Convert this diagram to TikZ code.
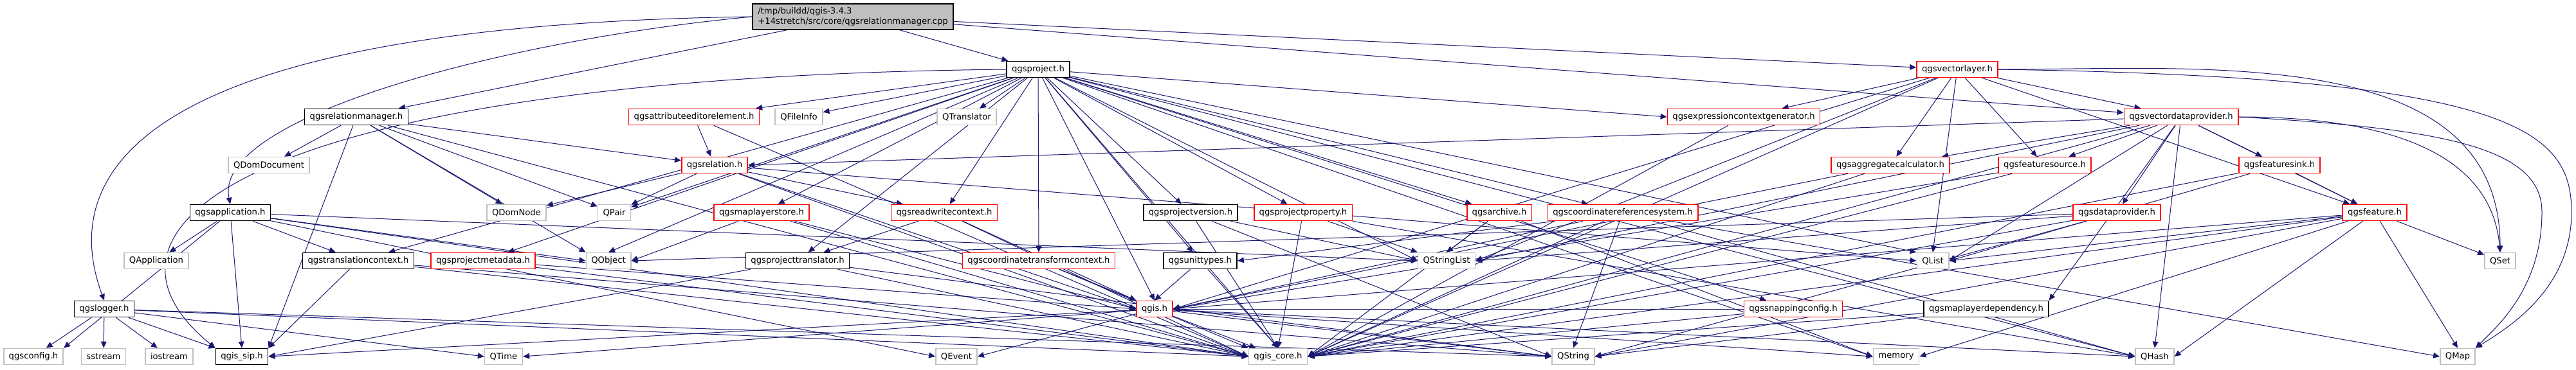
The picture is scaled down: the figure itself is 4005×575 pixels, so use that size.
\documentclass[tikz,border=0pt]{standalone}
\usepackage{fontspec}
\setmainfont{DejaVu Sans}
\usetikzlibrary{arrows.meta, backgrounds}
\definecolor{edgeblue}{HTML}{191970}
\definecolor{extgray}{HTML}{BFBFBF}

\begin{document}
\begin{tikzpicture}[
    x=0.5pt, y=-0.5pt,
    docbox/.style={draw=black, line width=0.8pt, fill=white, inner xsep=4pt, inner ysep=0pt,
        minimum height=12.5pt, font=\fontsize{6.6pt}{7.8pt}\selectfont},
    truncbox/.style={docbox, draw=red},
    extbox/.style={docbox, draw=extgray},
    rootbox/.style={docbox, fill=extgray, minimum height=20pt, align=left},
    dep/.style={draw=edgeblue, line width=0.5pt, -{Triangle[length=5pt,width=4.4pt]}}
]
    \useasboundingbox (0,0) rectangle (4005,575);

    % Source file
    \node[rootbox] (root) at (1326,26) {/tmp/buildd/qgis-3.4.3\\+14stretch/src/core/qgsrelationmanager.cpp};

    % Rank 1
    \node[docbox] (proj) at (1614,108) {qgsproject.h};
    \node[truncbox] (vlayer) at (3043,108) {qgsvectorlayer.h};

    % Rank 2
    \node[docbox] (relmgr) at (554,182) {qgsrelationmanager.h};
    \node[truncbox] (attredit) at (1079,182) {qgsattributeeditorelement.h};
    \node[extbox] (qfileinfo) at (1242,182) {QFileInfo};
    \node[extbox] (qtrans) at (1503,182) {QTranslator};
    \node[truncbox] (exprgen) at (2711,182) {qgsexpressioncontextgenerator.h};
    \node[truncbox] (vdp) at (3391,182) {qgsvectordataprovider.h};

    % Rank 3
    \node[extbox] (qdomdoc) at (418,257) {QDomDocument};
    \node[truncbox] (relation) at (1111,257) {qgsrelation.h};
    \node[truncbox] (aggcalc) at (2939,257) {qgsaggregatecalculator.h};
    \node[truncbox] (fsource) at (3179,257) {qgsfeaturesource.h};
    \node[truncbox] (fsink) at (3544,257) {qgsfeaturesink.h};

    % Rank 4
    \node[docbox] (app) at (358,331) {qgsapplication.h};
    \node[extbox] (qdomnode) at (803,331) {QDomNode};
    \node[extbox] (qpair) at (955,331) {QPair};
    \node[truncbox] (mlstore) at (1184,331) {qgsmaplayerstore.h};
    \node[truncbox] (rwctx) at (1468,331) {qgsreadwritecontext.h};
    \node[docbox] (projver) at (1851,331) {qgsprojectversion.h};
    \node[truncbox] (projprop) at (2026,331) {qgsprojectproperty.h};
    \node[truncbox] (archive) at (2331,331) {qgsarchive.h};
    \node[truncbox] (crs) at (2523,331) {qgscoordinatereferencesystem.h};
    \node[truncbox] (dprov) at (3291,331) {qgsdataprovider.h};
    \node[truncbox] (feature) at (3692,331) {qgsfeature.h};

    % Rank 5
    \node[extbox] (qapp) at (243,406) {QApplication};
    \node[docbox] (trctx) at (557,406) {qgstranslationcontext.h};
    \node[truncbox] (projmeta) at (751,406) {qgsprojectmetadata.h};
    \node[extbox] (qobject) at (946,406) {QObject};
    \node[docbox] (projtr) at (1240,406) {qgsprojecttranslator.h};
    \node[truncbox] (ctctx) at (1615,406) {qgscoordinatetransformcontext.h};
    \node[docbox] (units) at (1866,406) {qgsunittypes.h};
    \node[extbox] (qstrlist) at (2249,406) {QStringList};
    \node[extbox] (qlist) at (3005,406) {QList};
    \node[extbox] (qset) at (3887,406) {QSet};

    % Rank 6
    \node[docbox] (logger) at (162,481) {qgslogger.h};
    \node[truncbox] (qgish) at (1795,481) {qgis.h};
    \node[truncbox] (snapcfg) at (2788,481) {qgssnappingconfig.h};
    \node[docbox] (mldep) at (3088,481) {qgsmaplayerdependency.h};

    % Rank 7
    \node[extbox] (qgsconfig) at (52,555) {qgsconfig.h};
    \node[extbox] (sstream) at (161,555) {sstream};
    \node[extbox] (iostream) at (263,555) {iostream};
    \node[docbox] (qgissip) at (376,555) {qgis\_sip.h};
    \node[extbox] (qtime) at (783,555) {QTime};
    \node[extbox] (qevent) at (1487,555) {QEvent};
    \node[extbox] (qgiscore) at (1987,555) {qgis\_core.h};
    \node[extbox] (qstring) at (2446,555) {QString};
    \node[extbox] (memory) at (2948,555) {memory};
    \node[extbox] (qhash) at (3350,555) {QHash};
    \node[extbox] (qmap) at (3821,555) {QMap};

    % Includes
    \begin{scope}[on background layer, every edge/.style={dep}]
    \path (root) edge (relmgr) edge (proj) edge (vlayer) edge (vdp);
    \draw[dep] (root.west) .. controls (150,40) and (100,300) .. (logger.north);
    \draw[dep] (root.west) .. controls (800,60) and (330,180) .. (app.north);

    \path (relmgr) edge (qdomdoc) edge (qdomnode) edge (qpair) edge (qobject.north west)
        edge (relation) edge (qgiscore.west) edge (qgissip.north east);

    \path (app) edge (qapp) edge (qgsconfig.north east) edge (trctx) edge (qgissip.north)
        edge (qgiscore.west) edge (qobject.west) edge (qstrlist.west) edge (qevent.west);

    \path (logger) edge (qgsconfig) edge (sstream) edge (iostream) edge (qgissip.north west)
        edge (qgiscore.west) edge (qstring.west) edge (qtime.west);

    \path (proj) edge (qtrans) edge (qfileinfo) edge (attredit) edge (mlstore)
        edge (projmeta) edge (rwctx) edge (ctctx) edge (units) edge (projver)
        edge (projprop) edge (archive) edge (crs) edge (snapcfg) edge (exprgen.west)
        edge (trctx) edge (projtr) edge (qobject.north) edge (qpair) edge (qstrlist.west)
        edge (qlist.north west) edge (qhash.west) edge (memory.west) edge (qgish.north)
        edge (qgiscore.north);
    \draw[dep] (proj.west) .. controls (400,120) and (100,350) .. (qgissip.north west);

    \path (attredit) edge (relation) edge (qgiscore.west);
    \path (relation) edge (qdomnode) edge (qpair) edge (rwctx) edge (qlist.west)
        edge (qgiscore.west) edge (qgish.west);
    \path (mlstore) edge (qobject.east) edge (qgiscore.west) edge (qgish.west);
    \path (rwctx) edge (projtr) edge (qgish.north west) edge (qgiscore.west);
    \path (projver) edge (qstring.west) edge (qstrlist.west) edge (qgiscore.north);
    \path (projprop) edge (qgiscore.north) edge (qstrlist.north west) edge (qhash.west);
    \path (archive) edge (qstrlist.north) edge (qgiscore.east) edge (memory.west);
    \path (crs) edge (units.east) edge (qgiscore.east) edge (qgish.east) edge (qstring.north)
        edge (qhash.west) edge (qmap.west);
    \path (ctctx) edge (qgish.north west) edge (qgiscore.north west);
    \path (units) edge (qgish.north) edge (qgiscore.north);
    \path (projtr) edge (qgissip.east) edge (qgiscore.west) edge (qstring.west);
    \path (projmeta) edge (qgiscore.west) edge (qgish.west);
    \path (trctx) edge (qgissip.north east) edge (qgiscore.west) edge (qstring.west);
    \path (qgish) edge (qevent.east) edge (qgiscore) edge (qgissip.east) edge (qtime.east)
        edge (qstring.west) edge (memory.west) edge (qhash.west);
    \path (snapcfg) edge (qgish.east) edge (qgiscore.east);
    \path (mldep) edge (qgiscore.east) edge (qstring.east);
    \path (exprgen) edge (qgiscore.east);

    \path (vlayer) edge (exprgen) edge (aggcalc) edge (fsource) edge (vdp)
        edge (feature) edge (qlist.north) edge (qstrlist.east) edge (qgish.east)
        edge (qgiscore.east);
    \draw[dep] (vlayer.east) .. controls (3900,120) and (3998,200) .. (3998,330)
        .. controls (3998,450) and (3900,510) .. (qmap.north east);
    \path (vlayer.east) edge[out=0, in=90] (qset.north);

    \path (vdp) edge (relation.east) edge (aggcalc) edge (fsource) edge (fsink)
        edge (dprov) edge (feature) edge (mldep.north east) edge (qlist.east)
        edge (qhash.north) edge (qgiscore.east) edge (qstrlist.east);
    \draw[dep] (vdp.east) .. controls (3800,200) and (3952,230) .. (3952,330)
        .. controls (3952,450) and (3880,510) .. (qmap.north east);
    \path (vdp.east) edge[out=0, in=95] (qset.north);

    \path (dprov) edge (qobject.east) edge (qstrlist.east) edge (qgiscore.east)
        edge (qstring.east);
    \path (fsink) edge (feature) edge (qlist.east) edge (qgiscore.east);
    \path (fsource) edge (qgiscore.east) edge (qgish.east);
    \path (aggcalc) edge (qgiscore.east) edge (qgish.east);
    \path (feature) edge (qset) edge (qmap.north) edge (qhash.east) edge (qlist.east)
        edge (memory.east) edge (qgiscore.east) edge (qgish.east) edge (qstring.east);
    \end{scope}
\end{tikzpicture}
\end{document}
